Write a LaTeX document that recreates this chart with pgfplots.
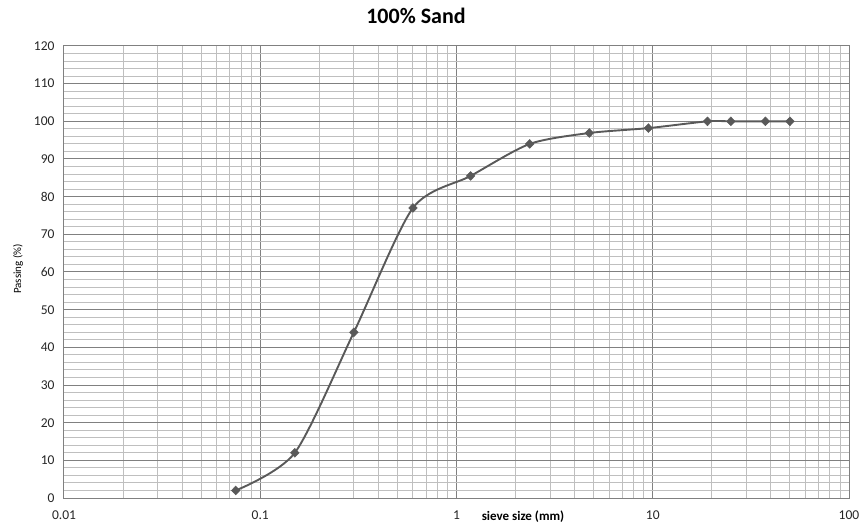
\documentclass[border=0pt]{standalone}
\usepackage{pgfplots}
\pgfplotsset{compat=1.18}
\usepackage{fontspec}
\setmainfont{Carlito}
\begin{document}
\begin{tikzpicture}
\begin{axis}[
  at={(0,0)}, anchor=south west,
  scale only axis, width=785pt, height=452pt,
  xmode=log, xmin=0.01, xmax=100, ymin=0, ymax=120,
  ytick={0,10,...,120}, minor y tick num=4,
  xtick={0.01,0.1,1,10,100}, xticklabels={0.01,0.1,1,10,100},
  grid=both,
  major grid style={color=black!50, line width=1pt},
  minor grid style={color=black!25, line width=1pt},
  axis line style={color=black!50, line width=1pt},
  tick style={draw=none},
  tick label style={font=\fontsize{13.5}{14}\selectfont, color=black!85},
  /pgf/number format/assume math mode=true,
  yticklabel style={xshift=-6pt},
  xticklabel style={yshift=-9pt},
  clip=false,
]
\addplot[color=black!65, line width=1.9pt, smooth, tension=0.45,
  mark=diamond*, mark size=4.4pt, mark options={fill=black!65, draw=black!65, xscale=1.3, line width=0.5pt}]
  coordinates {
  (0.075,2) (0.15,12) (0.3,44) (0.6,77) (1.18,85.5) (2.36,94)
  (4.75,96.9) (9.5,98.2) (19,100) (25,100) (37.5,100) (50,100)
  };
\end{axis}
\node[font=\bfseries\fontsize{22}{24}\selectfont] at (352pt,482pt) {100\% Sand};
\node[font=\bfseries\fontsize{13}{14}\selectfont] at (459pt,-19pt) {sieve size (mm)};
\node[font=\fontsize{11}{12}\selectfont, rotate=90] at (-46pt,229pt) {Passing (\%)};
\pgfresetboundingbox
\path[use as bounding box] (-64pt,-27pt) rectangle (797pt,498pt);
\end{tikzpicture}
\end{document}
